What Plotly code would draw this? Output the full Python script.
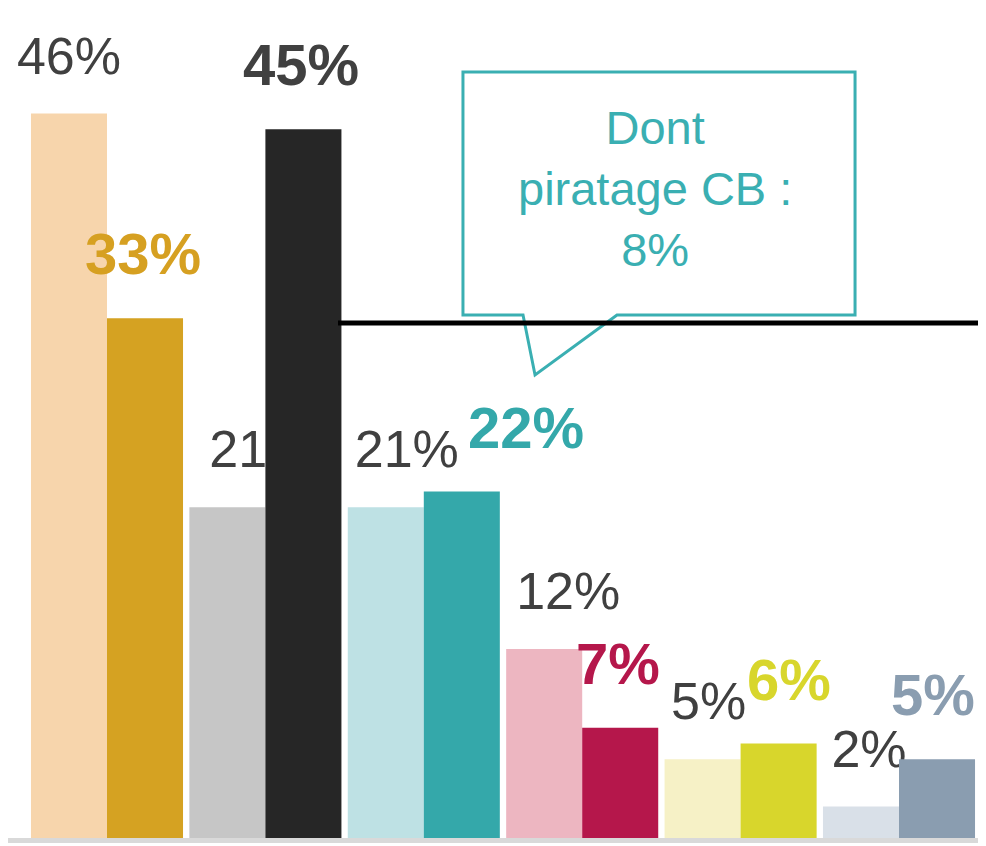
import plotly.graph_objects as go

groups = ["g1", "g2", "g3", "g4", "g5", "g6"]
light_values = [46, 21, 21, 12, 5, 2]
dark_values = [33, 45, 22, 7, 6, 5]
light_colors = ["#F7D5AC", "#C6C6C6", "#BEE1E4", "#EDB6C1", "#F6F1C6", "#D9E0E8"]
dark_colors = ["#D5A222", "#262626", "#34A8AA", "#B5174B", "#D8D62C", "#8A9DB0"]
dark_label_colors = ["#D6A021", "#404040", "#34A8AA", "#B5174B", "#D8D62C", "#8A9DB0"]
callout_text = "Dont<br>piratage CB :<br>8%"

# page body has an 8px margin, so the figure is drawn 8px in from the corner
PAGE_OFF = 8
W, H, B = 986 - PAGE_OFF, 846 - PAGE_OFF, 8
PH = H - B
GROUP_PX = 158.4
X0 = -(107 - PAGE_OFF) / GROUP_PX
Y_PER = 15.75
BAR_W = 0.48

# label x nudges in pixels (light, dark)
light_dx = [0, 34, 21, 24, 6, 8]
dark_dx = [-2, -2, 64, -2, 10, -4]
LABEL_LIFT = 26 / Y_PER

x = list(range(len(groups)))
font = "Liberation Sans, Arial, sans-serif"

fig = go.Figure()
fig.add_trace(go.Bar(x=x, y=light_values, marker=dict(color=light_colors, line=dict(width=0)),
                     offsetgroup="a", hoverinfo="skip"))
# invisible spacer bars carrying the light labels, drawn under the dark bars
fig.add_trace(go.Bar(x=x, y=[LABEL_LIFT] * len(x), base=light_values,
                     width=[BAR_W] * len(x),
                     offset=[-BAR_W + d / GROUP_PX for d in light_dx],
                     marker=dict(color="rgba(0,0,0,0)", line=dict(width=0)),
                     text=[f"{v}%" for v in light_values], textposition="outside",
                     constraintext="none", cliponaxis=False,
                     textfont=dict(family=font, size=52, color="#404040"), hoverinfo="skip"))
fig.add_trace(go.Bar(x=x, y=dark_values, marker=dict(color=dark_colors, line=dict(width=0)),
                     offsetgroup="b", hoverinfo="skip"))

for i, v in enumerate(dark_values):
    fig.add_annotation(x=i + BAR_W / 2, y=v, text=f"<b>{v}%</b>", showarrow=False,
                       xanchor="center", yanchor="bottom",
                       xshift=dark_dx[i], yshift=30,
                       font=dict(family=font, size=58, color=dark_label_colors[i]))


def px(xp, yp):
    return (xp - PAGE_OFF) / W, (PH - (yp - PAGE_OFF)) / PH


pts = [(463, 72), (855, 72), (855, 315), (617, 315), (535, 375), (523, 315), (463, 315)]
path = "M " + " L ".join(f"{px(a, b)[0]:.4f},{px(a, b)[1]:.4f}" for a, b in pts) + " Z"
fig.add_shape(type="path", xref="paper", yref="paper", path=path,
              line=dict(color="#3AAFB2", width=3), fillcolor="white")

lx0, ly = px(338, 323)
fig.add_shape(type="line", xref="paper", yref="paper", x0=lx0, x1=1, y0=ly, y1=ly,
              line=dict(color="black", width=5))

cx, cy = px(655, 188)
fig.add_annotation(xref="paper", yref="paper", x=cx, y=cy, text=callout_text, showarrow=False,
                   xanchor="center", yanchor="middle", align="center",
                   font=dict(family=font, size=47, color="#3AAFB2"))

fig.update_layout(
    width=W, height=H,
    margin=dict(l=0, r=0, t=0, b=B),
    paper_bgcolor="white", plot_bgcolor="white",
    barmode="group", bargap=0.04, bargroupgap=0,
    showlegend=False,
    xaxis=dict(range=[X0, X0 + W / GROUP_PX], showticklabels=False, showgrid=False,
               zeroline=False, showline=True, linecolor="#D9D9D9", linewidth=5),
    yaxis=dict(range=[0, PH / Y_PER], visible=False),
)

fig.write_html("out.html")
